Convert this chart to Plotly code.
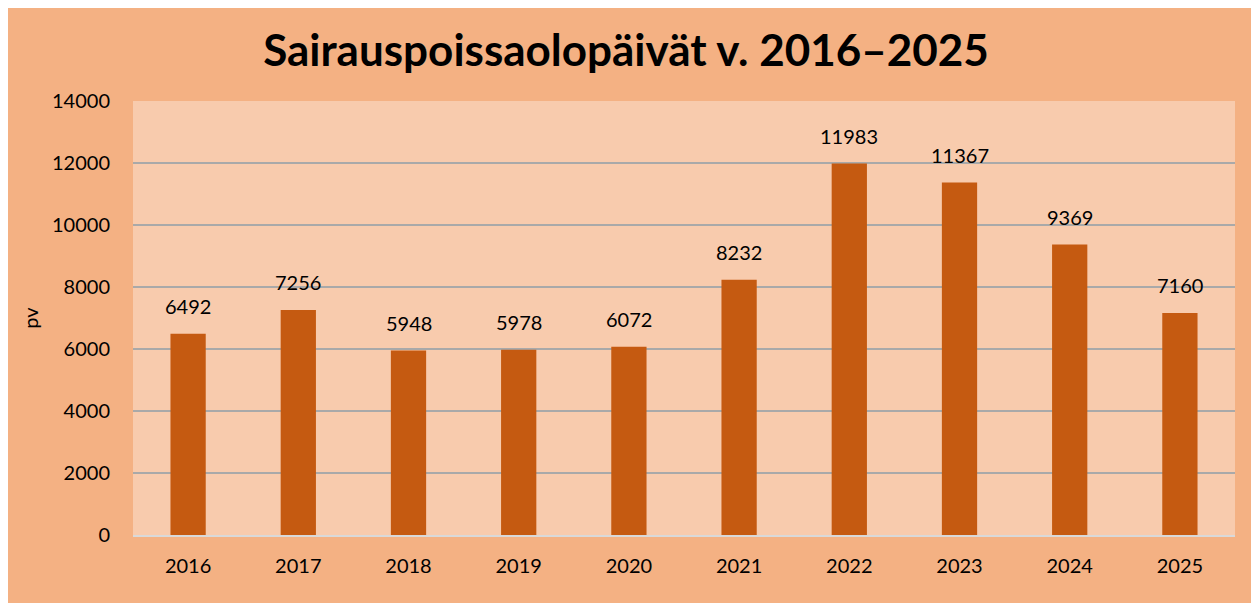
import plotly.graph_objects as go

years = ["2016", "2017", "2018", "2019", "2020", "2021", "2022", "2023", "2024", "2025"]
days = [6492, 7256, 5948, 5978, 6072, 8232, 11983, 11367, 9369, 7160]
y_ticks = [0, 2000, 4000, 6000, 8000, 10000, 12000, 14000]

font_family = "Lato, 'Open Sans', sans-serif"

fig = go.Figure(go.Bar(
    x=years, y=days,
    width=0.32,
    marker=dict(color="#C55A11", line=dict(width=0)),
    hoverinfo="x+y",
))

# value labels above bars (category index positions)
for i, v in enumerate(days):
    fig.add_annotation(x=i, y=v, text=str(v), showarrow=False,
                       yanchor="bottom", yshift=14,
                       font=dict(size=20, color="#000000", family=font_family))

fig.update_layout(
    width=1251, height=595,
    paper_bgcolor="#F4B183",
    plot_bgcolor="#F8CBAD",
    margin=dict(l=125, r=24, t=93, b=68),
    title=dict(text="<b>Sairauspoissaolopäivät v. 2016–2025</b>",
               x=0.494, xanchor="center", y=0.928, yanchor="middle",
               font=dict(size=44, color="#000000", family=font_family)),
    font=dict(family=font_family, size=20, color="#000000"),
    showlegend=False,
    bargap=0.68,
)
fig.update_xaxes(type="category", range=[-0.5, len(years) - 0.5],
                 showgrid=False, showline=True, linecolor="#D9D9D9", linewidth=2,
                 ticks="", tickfont=dict(size=20), ticklabelstandoff=12)
fig.update_yaxes(range=[0, 14000], tickvals=y_ticks,
                 ticktext=[str(t) for t in y_ticks], showgrid=True,
                 gridcolor="#A9A9A9", gridwidth=1.5, zeroline=False,
                 tickfont=dict(size=20), ticklabelstandoff=22,
                 title=dict(text="pv", font=dict(size=20), standoff=8))

fig.write_html("out.html")
